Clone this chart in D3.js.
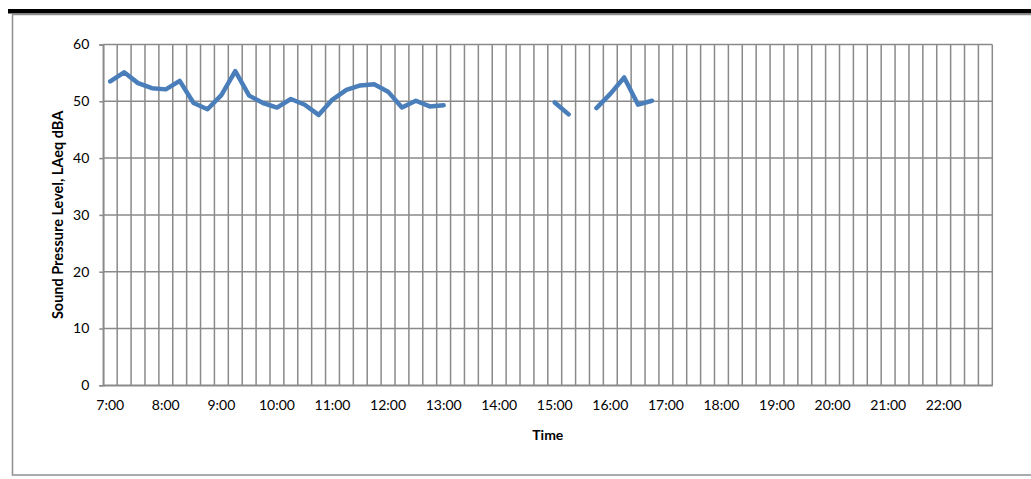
<!DOCTYPE html>
<html>
<head>
<meta charset="utf-8">
<script src="https://cdn.jsdelivr.net/npm/d3@7/dist/d3.min.js"></script>
<style>
  html, body { margin: 0; padding: 0; background: #fff; }
  svg { display: block; }
  text { font-family: Lato, "Open Sans", sans-serif; fill: #000; }
</style>
</head>
<body>
<svg id="chart" width="1031" height="479"></svg>
<script>
// ---- data ----
const times = [];
for (let h = 7; h <= 22; h++) for (let m = 0; m < 60; m += 15) times.push(h + ":" + (m === 0 ? "00" : m));
const levels = [
  53.5, 55.1, 53.2, 52.3, 52.1, 53.6, 49.7, 48.6,   // 7:00 - 8:45
  51.1, 55.3, 51.0, 49.7, 48.9, 50.4, 49.4, 47.6,   // 9:00 - 10:45
  50.3, 52.0, 52.8, 53.0, 51.7, 48.9, 50.1, 49.1,   // 11:00 - 12:45
  49.3, null, null, null, null, null, null, null,   // 13:00 - 14:45
  49.8, 47.7, null, 48.8, 51.3, 54.2, 49.4, 50.1,   // 15:00 - 16:45
  null, null, null, null, null, null, null, null,   // 17:00 - 18:45
  null, null, null, null, null, null, null, null,   // 19:00 - 20:45
  null, null, null, null, null, null, null, null    // 21:00 - 22:45
];
const yTicks = [0, 10, 20, 30, 40, 50, 60];
const xTickLabels = ["7:00","8:00","9:00","10:00","11:00","12:00","13:00","14:00","15:00","16:00","17:00","18:00","19:00","20:00","21:00","22:00"];
const xTitle = "Time";
const yTitle = "Sound Pressure Level, LAeq dBA";

// ---- layout ----
const svg = d3.select("#chart");
const pL = 103.3, pR = 992.3, pT = 44.5, pB = 385.3;
const gridColor = "#8a8a8a";

// decorations: black bar and chart frame
svg.append("rect").attr("x", 8).attr("y", 9).attr("width", 1031).attr("height", 4.5).attr("fill", "#000");
svg.append("rect").attr("x", 12.5).attr("y", 14.5).attr("width", 1030).attr("height", 460.5)
  .attr("fill", "none").attr("stroke", "#8f8f8f").attr("stroke-width", 1.5);

const x = d3.scaleBand().domain(times).range([pL, pR]).paddingInner(0).paddingOuter(0);
const y = d3.scaleLinear().domain([0, 60]).range([pB, pT]);

// vertical gridlines at category boundaries
const bounds = times.map(t => x(t)).concat([pR]);
svg.append("g").selectAll("line").data(bounds).join("line")
  .attr("x1", d => d).attr("x2", d => d).attr("y1", pT).attr("y2", pB)
  .attr("stroke", gridColor).attr("stroke-width", 1.5);

// horizontal gridlines
svg.append("g").selectAll("line").data(yTicks).join("line")
  .attr("x1", pL).attr("x2", pR).attr("y1", d => y(d)).attr("y2", d => y(d))
  .attr("stroke", gridColor).attr("stroke-width", 1.5);

// y axis
const yAxis = d3.axisLeft(y).tickValues(yTicks).tickSize(4).tickPadding(10).tickFormat(d3.format("d"));
const gy = svg.append("g").attr("transform", `translate(${pL},0)`).call(yAxis);
gy.select(".domain").attr("stroke", gridColor).attr("stroke-width", 1.5);
gy.selectAll(".tick line").attr("stroke", gridColor).attr("stroke-width", 1.5);
gy.selectAll(".tick text").attr("font-size", 14).attr("font-family", "Lato, sans-serif").attr("fill", "#000");

// x axis
const xAxis = d3.axisBottom(x).tickValues(xTickLabels).tickSize(0).tickPadding(15);
const gx = svg.append("g").attr("transform", `translate(0,${pB})`).call(xAxis);
gx.select(".domain").attr("stroke", gridColor).attr("stroke-width", 1.5);
gx.selectAll(".tick text").attr("font-size", 14).attr("font-family", "Lato, sans-serif").attr("fill", "#000");

// titles
svg.append("text").attr("x", (pL + pR) / 2).attr("y", 439.5).attr("text-anchor", "middle")
  .attr("font-size", 14).attr("font-weight", "bold").text(xTitle);
svg.append("text").attr("transform", `translate(63,${(pT + pB) / 2}) rotate(-90)`)
  .attr("text-anchor", "middle").attr("font-size", 14.5).attr("font-weight", "bold").text(yTitle);

// line
const line = d3.line()
  .defined(d => d.v !== null)
  .x(d => x(d.t) + x.bandwidth() / 2)
  .y(d => y(d.v));
svg.append("path").datum(times.map((t, i) => ({t, v: levels[i]})))
  .attr("d", line).attr("fill", "none").attr("stroke", "#4a7ebb").attr("stroke-width", 4.5)
  .attr("stroke-linejoin", "round").attr("stroke-linecap", "round");
</script>
</body>
</html>
